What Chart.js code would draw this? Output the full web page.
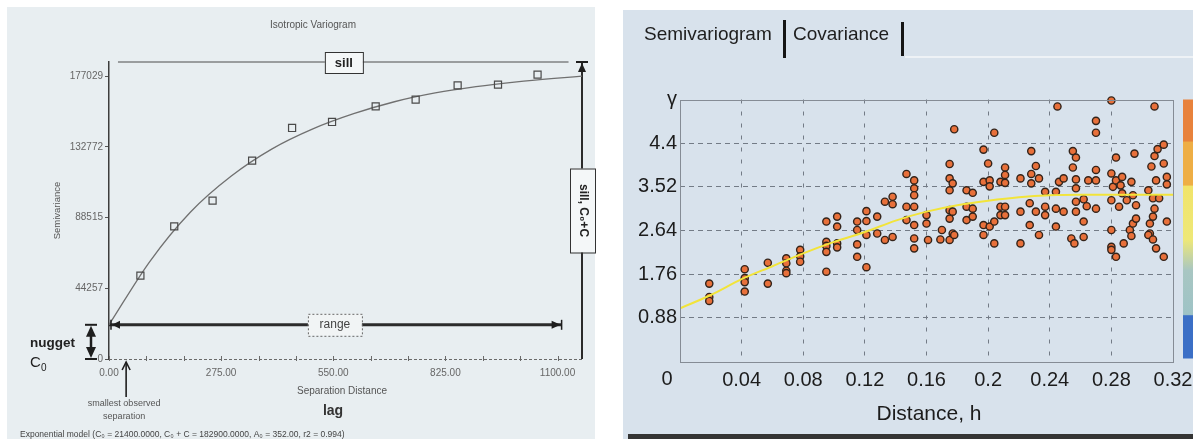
<!DOCTYPE html>
<html lang="en">
<head>
<meta charset="utf-8">
<title>Variogram</title>
<script src="https://cdn.jsdelivr.net/npm/chart.js"></script>
<style>
  html, body { margin: 0; padding: 0; background: #fff; }
  body { position: relative; width: 1193px; height: 439px; overflow: hidden;
         font-family: "Liberation Sans", Arial, sans-serif; }
  .panel { position: absolute; }
  #leftPanel { left: 7px; top: 7px; width: 588px; height: 432px; background: #e8eef1; }
  #rightPanel { left: 623px; top: 10px; width: 570px; height: 429px; background: #d8e2ec; }
  canvas { position: absolute; top: 0; }
  #varioChart { left: 0; }
  #semiChart { left: 600px; }
  .tab { position: absolute; top: 21px; font-size: 19px; line-height: 26px; color: #1e1e1e; }
  .tabBar { position: absolute; width: 3px; background: #151515; }
  #tabLine { position: absolute; left: 905px; top: 56px; width: 288px; height: 2px; background: #eef2f6; }
  #footBar { position: absolute; left: 628px; top: 434px; width: 565px; height: 5px; background: #343434; }
  #distTitle { position: absolute; left: 829px; top: 401px; width: 200px; text-align: center;
               font-size: 21px; color: #1c1c1c; }
</style>
</head>
<body>
<div id="leftPanel" class="panel"></div>
<div id="rightPanel" class="panel"></div>
<div id="tabLine"></div>
<canvas id="varioChart" width="600" height="439"></canvas>
<canvas id="semiChart" width="593" height="439"></canvas>
<div class="tab" style="left:644px">Semivariogram</div>
<div class="tabBar" style="left:783px;top:20px;height:38px"></div>
<div class="tab" style="left:793px">Covariance</div>
<div class="tabBar" style="left:901px;top:22px;height:34px"></div>
<div id="distTitle">Distance, h</div>
<div id="footBar"></div>
<script>
// ---------- isotropic variogram (left) ----------
const lagDist = [77, 160, 254, 351, 449, 547, 654, 752, 855, 954, 1051];
const lagSemivar = [52150, 83000, 99090, 124130, 144600, 148360, 158130, 162320, 171270, 171700, 177970];

const modelLag = [0, 100, 200, 300, 400, 500, 600, 700, 800, 900, 1000, 1100, 1160];
const modelSemivar = [21400, 61000, 92000, 114500, 131500, 144000, 153500, 161000, 166500, 170500, 173500, 175800, 177000];

const semivarTicks = [0, 44257, 88515, 132772, 177029];
const semivarTickLabels = ["0", "44257", "88515", "132772", "177029"];
const sepTicks = [0, 275, 550, 825, 1100];
const sepTickLabels = ["0.00", "275.00", "550.00", "825.00", "1100.00"];

const nugget = 21400;
const sillLevel = 185880;
const sillSpan = [22, 1127];
const rangeSpan = [0, 1110];
const smallestSep = 42;
const maxSep = 1160;
const modelText = "Exponential model (C₀ = 21400.0000, C₀ + C = 182900.0000, A₀ = 352.00, r2 = 0.994)";

// ---------- semivariogram cloud (right) ----------
const distH = [
  0.019, 0.019, 0.019, 0.042, 0.042, 0.042, 0.042, 0.057, 0.057,
  0.069, 0.069, 0.069, 0.069, 0.078, 0.078, 0.078,
  0.095, 0.095, 0.095, 0.095, 0.095, 0.102, 0.102, 0.102, 0.102,
  0.115, 0.115, 0.115, 0.115, 0.121, 0.121, 0.121, 0.121,
  0.128, 0.128, 0.133, 0.133, 0.138, 0.138, 0.138,
  0.147, 0.147, 0.147, 0.152, 0.152, 0.152, 0.152, 0.152, 0.152, 0.152,
  0.161, 0.160, 0.160, 0.170, 0.169,
  0.175, 0.175, 0.175, 0.175, 0.175, 0.175, 0.177, 0.177, 0.178, 0.177, 0.178,
  0.186, 0.186, 0.186, 0.190, 0.190, 0.190,
  0.197, 0.197, 0.197, 0.197, 0.201, 0.201, 0.201, 0.200,
  0.204, 0.204, 0.204, 0.208, 0.208, 0.208,
  0.211, 0.211, 0.211, 0.211, 0.211, 0.221, 0.221, 0.221,
  0.227, 0.227, 0.228, 0.228, 0.228, 0.231, 0.231, 0.233, 0.233,
  0.237, 0.237, 0.237, 0.244, 0.244, 0.244, 0.245, 0.246, 0.249, 0.249,
  0.254, 0.255, 0.255, 0.256, 0.257, 0.257, 0.257, 0.257, 0.257,
  0.262, 0.262, 0.262, 0.264, 0.265,
  0.270, 0.270, 0.270, 0.270, 0.270,
  0.280, 0.280, 0.280, 0.280, 0.280, 0.280, 0.281,
  0.283, 0.283, 0.283, 0.285, 0.286, 0.288, 0.287, 0.287, 0.290, 0.292,
  0.293, 0.293, 0.294, 0.294, 0.295, 0.296, 0.296,
  0.304, 0.305, 0.305, 0.304, 0.306, 0.307, 0.307, 0.307, 0.308, 0.308, 0.308,
  0.309, 0.309, 0.310, 0.311, 0.314, 0.314, 0.314, 0.316, 0.316, 0.316
];
const gammaH = [
  1.57, 1.30, 1.22, 1.86, 1.68, 1.60, 1.41, 1.99, 1.57,
  2.08, 1.98, 1.83, 1.78, 2.25, 2.12, 2.01,
  2.41, 2.33, 2.21, 1.81, 2.82, 2.38, 2.30, 2.92, 2.72,
  2.36, 2.11, 2.82, 2.65, 1.90, 2.55, 3.03, 2.83,
  2.58, 2.92, 2.45, 3.22, 2.51, 3.32, 3.17,
  3.78, 3.12, 2.85, 2.48, 2.28, 3.65, 3.49, 3.35, 3.12, 2.75,
  2.45, 2.95, 2.78, 2.65, 2.46,
  3.05, 2.88, 2.45, 3.98, 3.69, 3.45, 3.02, 2.58, 2.55, 3.59, 4.68,
  3.12, 2.85, 3.45, 3.08, 2.92, 3.40,
  2.75, 2.55, 3.62, 4.27, 2.72, 3.65, 3.53, 3.99,
  2.82, 2.38, 4.61, 3.12, 2.95, 3.62,
  3.12, 2.95, 3.91, 3.76, 3.60, 3.02, 2.38, 3.69,
  3.19, 2.75, 3.78, 3.59, 4.24, 3.02, 3.94, 2.55, 3.69,
  3.12, 2.95, 3.42, 3.08, 2.72, 3.42, 5.14, 3.62, 3.02, 3.69,
  2.48, 4.24, 3.91, 2.38, 3.22, 3.02, 3.67, 3.49, 4.11,
  3.27, 2.82, 2.51, 3.13, 3.65,
  3.08, 3.65, 3.86, 4.85, 4.61,
  3.25, 2.65, 2.31, 2.25, 3.79, 5.26, 3.52,
  2.11, 3.65, 4.11, 3.12, 3.55, 2.38, 3.72, 3.39, 3.25, 2.65,
  2.53, 3.62, 3.35, 2.78, 4.19, 3.15, 2.88,
  3.45, 2.78, 2.58, 2.55, 3.93, 2.92, 2.46, 3.29, 3.08, 5.14, 4.14,
  3.65, 2.28, 4.28, 3.29, 4.37, 3.99, 2.11, 3.72, 3.57, 2.82
];

const fitH = [0, 0.02, 0.04, 0.06, 0.08, 0.10, 0.12, 0.14, 0.16, 0.18, 0.20, 0.22, 0.24, 0.26, 0.28, 0.30, 0.32];
const fitGamma = [1.07, 1.34, 1.66, 1.92, 2.18, 2.41, 2.61, 2.84, 3.02, 3.15, 3.24, 3.31, 3.35, 3.36, 3.36, 3.36, 3.36];

const hTicks = [0, 0.04, 0.08, 0.12, 0.16, 0.2, 0.24, 0.28, 0.32];
const hTickLabels = ["0", "0.04", "0.08", "0.12", "0.16", "0.2", "0.24", "0.28", "0.32"];
const gammaTicks = [0, 0.88, 1.76, 2.64, 3.52, 4.4, 5.28];
const gammaTickLabels = ["", "0.88", "1.76", "2.64", "3.52", "4.4", "γ"];

const sans = "'Liberation Sans', Arial, sans-serif";

const toXY = (xs, ys) => xs.map((x, i) => ({ x, y: ys[i] }));

// fixed-size axis boxes so the plot areas land where the layout needs them
const fixHeight = (h) => (s) => { s.height = h; s.paddingLeft = 0; s.paddingRight = 0; };
const fixWidth = (w) => (s) => { s.width = w; s.paddingTop = 0; s.paddingBottom = 0; };

function text(ctx, str, x, y, font, color, align = "center") {
  ctx.font = font;
  ctx.fillStyle = color;
  ctx.textAlign = align;
  ctx.textBaseline = "middle";
  ctx.fillText(str, x, y);
}

function tri(ctx, p) {
  ctx.beginPath();
  ctx.moveTo(p[0], p[1]);
  ctx.lineTo(p[2], p[3]);
  ctx.lineTo(p[4], p[5]);
  ctx.closePath();
  ctx.fill();
}

function seg(ctx, x1, y1, x2, y2) {
  ctx.beginPath();
  ctx.moveTo(x1, y1);
  ctx.lineTo(x2, y2);
  ctx.stroke();
}

// dotted lag axis, sill / range / nugget call-outs and captions
const varioMarks = {
  id: "varioMarks",
  beforeDatasetsDraw(chart) {
    const { ctx, chartArea: a, scales: { x } } = chart;
    ctx.save();
    ctx.strokeStyle = "#6a6a6a";
    ctx.lineWidth = 1;
    ctx.setLineDash([3, 2]);
    seg(ctx, a.left, a.bottom + 0.5, a.right, a.bottom + 0.5);
    ctx.setLineDash([]);
    const step = sepTicks[1] / 3;
    for (let v = 0; v <= sepTicks[sepTicks.length - 1] + 1; v += step) {
      const px = Math.round(x.getPixelForValue(v)) + 0.5;
      seg(ctx, px, a.bottom - 3, px, a.bottom + 2);
    }
    ctx.restore();
  },
  afterDraw(chart) {
    const { ctx, chartArea: a, scales: { x, y } } = chart;
    const yS = y.getPixelForValue(sillLevel);
    const yN = y.getPixelForValue(nugget);
    const y0 = y.getPixelForValue(0);
    const xR = x.getPixelForValue(maxSep);
    const xE = x.getPixelForValue(rangeSpan[1]);
    ctx.save();
    ctx.fillStyle = "#1e1e1e";
    ctx.strokeStyle = "#1e1e1e";

    // top of the sill arrow
    ctx.lineWidth = 2;
    seg(ctx, xR - 6, yS, xR + 6, yS);
    tri(ctx, [xR, yS + 1, xR - 4, yS + 10, xR + 4, yS + 10]);

    // range arrow ends
    ctx.lineWidth = 1.5;
    seg(ctx, a.left + 2, yN - 5, a.left + 2, yN + 5);
    tri(ctx, [a.left + 3, yN, a.left + 11, yN - 4, a.left + 11, yN + 4]);
    seg(ctx, xE, yN - 5, xE, yN + 5);
    tri(ctx, [xE - 1, yN, xE - 10, yN - 4, xE - 10, yN + 4]);

    // nugget double arrow
    const xn = a.left - 18;
    ctx.lineWidth = 2;
    seg(ctx, xn - 6, yN, xn + 6, yN);
    seg(ctx, xn - 6, y0, xn + 6, y0);
    tri(ctx, [xn, yN + 1, xn - 5, yN + 12, xn + 5, yN + 12]);
    tri(ctx, [xn, y0 - 1, xn - 5, y0 - 12, xn + 5, y0 - 12]);
    ctx.lineWidth = 2.5;
    seg(ctx, xn, yN + 11, xn, y0 - 11);

    // smallest observed separation pointer
    const xs = x.getPixelForValue(smallestSep);
    ctx.lineWidth = 1.6;
    seg(ctx, xs, y0 + 38, xs, y0 + 3);
    ctx.beginPath();
    ctx.moveTo(xs - 4, y0 + 11);
    ctx.lineTo(xs, y0 + 3);
    ctx.lineTo(xs + 4, y0 + 11);
    ctx.stroke();

    // "sill" box on the sill line
    const sx = x.getPixelForValue(576);
    ctx.fillStyle = "#f4f7f8";
    ctx.fillRect(sx - 19, yS - 10, 38, 21);
    ctx.lineWidth = 1;
    ctx.strokeStyle = "#333";
    ctx.strokeRect(sx - 19 + 0.5, yS - 10 + 0.5, 38, 21);
    text(ctx, "sill", sx, yS + 1, "bold 13px " + sans, "#222");

    // dashed "range" box
    const rx = x.getPixelForValue(554);
    ctx.fillStyle = "#f1f4f5";
    ctx.fillRect(rx - 27, yN - 11, 54, 22);
    ctx.setLineDash([2, 2]);
    ctx.strokeStyle = "#666";
    ctx.strokeRect(rx - 27 + 0.5, yN - 11 + 0.5, 54, 22);
    ctx.setLineDash([]);
    text(ctx, "range", rx, yN, "12px " + sans, "#444");

    // vertical "sill, C0+C" box
    const vy = (yS + y0) / 2;
    ctx.fillStyle = "#f4f7f8";
    ctx.fillRect(xR - 12, vy - 42, 25, 84);
    ctx.strokeStyle = "#333";
    ctx.strokeRect(xR - 12 + 0.5, vy - 42 + 0.5, 25, 84);
    ctx.save();
    ctx.translate(xR + 1, vy);
    ctx.rotate(Math.PI / 2);
    text(ctx, "sill, C₀+C", 0, 0, "bold 12px " + sans, "#222");
    ctx.restore();

    // captions
    text(ctx, "Isotropic Variogram", 313, 25, "10px " + sans, "#555");
    ctx.save();
    ctx.translate(57, (a.top + a.bottom) / 2);
    ctx.rotate(-Math.PI / 2);
    text(ctx, "Semivariance", 0, 0, "9.5px " + sans, "#555");
    ctx.restore();
    text(ctx, "nugget", 30, (yN + y0) / 2 + 1, "bold 13.5px " + sans, "#222", "left");
    text(ctx, "C", 30, y0 + 4, "15px " + sans, "#222", "left");
    text(ctx, "0", 41, y0 + 9, "10px " + sans, "#222", "left");
    text(ctx, "smallest observed", xs - 2, y0 + 45, "9px " + sans, "#555");
    text(ctx, "separation", xs - 2, y0 + 58, "9px " + sans, "#555");
    text(ctx, "Separation Distance", 342, 391, "10px " + sans, "#555");
    text(ctx, "lag", 333, 411, "bold 14px " + sans, "#333");
    text(ctx, modelText, 20, 435, "8.5px " + sans, "#444", "left");
    ctx.restore();
  }
};

new Chart(document.getElementById("varioChart"), {
  type: "scatter",
  data: {
    datasets: [
      {
        label: "experimental",
        data: toXY(lagDist, lagSemivar),
        pointStyle: "rect",
        pointRadius: 5,
        borderWidth: 1.2,
        borderColor: "#4a4a4a",
        backgroundColor: "rgba(0,0,0,0)",
        order: 0
      },
      {
        label: "model",
        data: toXY(modelLag, modelSemivar),
        showLine: true,
        pointRadius: 0,
        borderColor: "#707070",
        borderWidth: 1.3,
        cubicInterpolationMode: "monotone",
        order: 1
      },
      {
        label: "sill",
        data: [{ x: sillSpan[0], y: sillLevel }, { x: sillSpan[1], y: sillLevel }],
        showLine: true,
        pointRadius: 0,
        borderColor: "#4d4d4d",
        borderWidth: 1,
        clip: false,
        order: 2
      },
      {
        label: "range",
        data: [{ x: rangeSpan[0], y: nugget }, { x: rangeSpan[1], y: nugget }],
        showLine: true,
        pointRadius: 0,
        borderColor: "#2b2b2b",
        borderWidth: 3,
        clip: false,
        order: 2
      },
      {
        label: "sill arrow",
        data: [{ x: maxSep, y: 0 }, { x: maxSep, y: sillLevel }],
        showLine: true,
        pointRadius: 0,
        borderColor: "#2b2b2b",
        borderWidth: 2,
        clip: false,
        order: 2
      }
    ]
  },
  options: {
    responsive: false,
    animation: false,
    events: [],
    layout: { padding: { left: 0, right: 18, top: 62, bottom: 0 } },
    plugins: { legend: { display: false }, tooltip: { enabled: false } },
    scales: {
      x: {
        type: "linear",
        min: 0,
        max: maxSep,
        afterFit: fixHeight(80),
        afterBuildTicks: (s) => { s.ticks = sepTicks.map((v) => ({ value: v })); },
        grid: { display: false, drawTicks: false },
        border: { display: false },
        ticks: {
          padding: 8,
          color: "#666",
          font: { family: sans, size: 10 },
          maxRotation: 0,
          callback: (v, i) => sepTickLabels[i]
        }
      },
      y: {
        min: 0,
        max: sillLevel,
        afterFit: fixWidth(109),
        afterBuildTicks: (s) => { s.ticks = semivarTicks.map((v) => ({ value: v })); },
        grid: { drawOnChartArea: false, tickLength: 4, color: "#555" },
        border: { color: "#3d3d3d", width: 1.5 },
        ticks: {
          padding: 2,
          color: "#666",
          font: { family: sans, size: 10 },
          callback: (v, i) => semivarTickLabels[i]
        }
      }
    }
  },
  plugins: [varioMarks]
});

// frame, colour ramp and the origin label of the cloud plot
const innerGrid = (ticks) => (c) =>
  c.index > 0 && c.index < ticks.length - 1 ? "#737b86" : "rgba(0,0,0,0)";

const cloudFrame = {
  id: "cloudFrame",
  afterDraw(chart) {
    const { ctx, chartArea: a } = chart;
    ctx.save();
    ctx.strokeStyle = "#858c95";
    ctx.lineWidth = 1;
    ctx.strokeRect(Math.round(a.left) + 0.5, Math.round(a.top) + 0.5,
      Math.round(a.right - a.left), Math.round(a.bottom - a.top));

    const bx = a.right + 10, bw = 10, top = a.top, bottom = a.bottom - 3;
    const h = bottom - top;
    const grad = ctx.createLinearGradient(0, top, 0, bottom);
    grad.addColorStop(0, "#e8823c");
    grad.addColorStop(0.16, "#e8823c");
    grad.addColorStop(0.165, "#eeae45");
    grad.addColorStop(0.33, "#eeae45");
    grad.addColorStop(0.335, "#f1e46a");
    grad.addColorStop(0.54, "#eee878");
    grad.addColorStop(0.66, "#a8c6c2");
    grad.addColorStop(0.83, "#9ec3c6");
    grad.addColorStop(0.835, "#3b6fc6");
    grad.addColorStop(1, "#3b6fc6");
    ctx.fillStyle = grad;
    ctx.fillRect(bx, top, bw, h);

    text(ctx, hTickLabels[0], a.left - 13, a.bottom + 18, "20px " + sans, "#1c1c1c");
    ctx.restore();
  }
};

new Chart(document.getElementById("semiChart"), {
  type: "scatter",
  data: {
    datasets: [
      {
        label: "model",
        data: toXY(fitH, fitGamma),
        showLine: true,
        pointRadius: 0,
        borderColor: "#f2e43a",
        borderWidth: 2,
        cubicInterpolationMode: "monotone",
        order: 0
      },
      {
        label: "pairs",
        data: toXY(distH, gammaH),
        pointRadius: 3.6,
        borderWidth: 1.4,
        borderColor: "#33241b",
        backgroundColor: "#e8703a",
        clip: false,
        order: 1
      }
    ]
  },
  options: {
    responsive: false,
    animation: false,
    events: [],
    layout: { padding: { left: 0, right: 20, top: 99.5, bottom: 0 } },
    plugins: { legend: { display: false }, tooltip: { enabled: false } },
    scales: {
      x: {
        type: "linear",
        min: 0,
        max: 0.32,
        afterFit: fixHeight(77.5),
        afterBuildTicks: (s) => { s.ticks = hTicks.map((v) => ({ value: v })); },
        grid: { color: innerGrid(hTicks), drawTicks: false },
        border: { display: false, dash: [4, 8] },
        ticks: {
          padding: 7,
          color: "#1c1c1c",
          font: { family: sans, size: 20 },
          maxRotation: 0,
          callback: (v, i) => (i === 0 ? "" : hTickLabels[i])
        }
      },
      y: {
        min: 0,
        max: 5.28,
        afterFit: fixWidth(80),
        afterBuildTicks: (s) => { s.ticks = gammaTicks.map((v) => ({ value: v })); },
        grid: { color: innerGrid(gammaTicks), drawTicks: false },
        border: { display: false, dash: [5, 4] },
        ticks: {
          padding: 3,
          color: "#1c1c1c",
          font: { family: sans, size: 20 },
          callback: (v, i) => gammaTickLabels[i]
        }
      }
    }
  },
  plugins: [cloudFrame]
});
</script>
</body>
</html>
